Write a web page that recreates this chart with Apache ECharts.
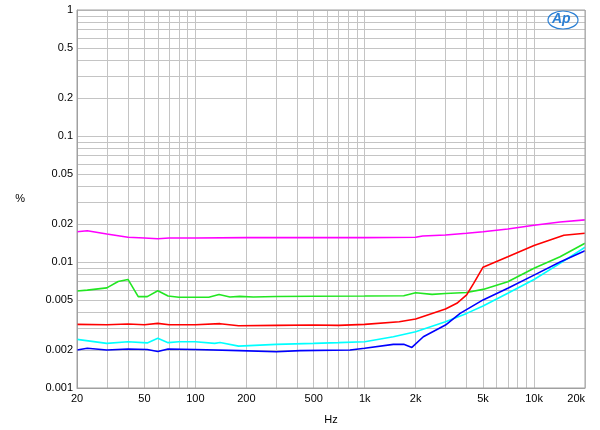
<!DOCTYPE html>
<html>
<head>
<meta charset="utf-8">
<script src="https://cdn.jsdelivr.net/npm/echarts@6/dist/echarts.min.js"></script>
<style>html,body{margin:0;padding:0;background:#fff}#c{width:600px;height:430px}</style>
</head>
<body>
<div id="c"></div>
<script>
// ---- data ----
var xLabelValues = [20, 50, 100, 200, 500, 1000, 2000, 5000, 10000, 20000];
var yLabelValues = [0.001, 0.002, 0.005, 0.01, 0.02, 0.05, 0.1, 0.2, 0.5, 1];

var magentaHz = [20, 23, 30, 40, 50, 60, 70, 100, 200, 500, 1000, 2000, 2200, 3000, 4000, 5000, 7000, 10000, 14250, 20000];
var magenta   = [0.0174, 0.0177, 0.0167, 0.0157, 0.0155, 0.0153, 0.0155, 0.0155, 0.0156, 0.0156, 0.0156, 0.0157, 0.0161, 0.0164, 0.0169, 0.0174, 0.0183, 0.0196, 0.0208, 0.0216];

var greenHz = [20, 23, 30, 35, 40, 46, 52, 60, 69, 80, 120, 138, 160, 183, 220, 300, 500, 1000, 1700, 2000, 2500, 3000, 4000, 5000, 7000, 10000, 14250, 20000];
var green   = [0.00589, 0.00598, 0.00623, 0.0070, 0.00727, 0.00531, 0.00531, 0.00591, 0.00537, 0.00525, 0.00525, 0.00553, 0.00527, 0.00534, 0.00527, 0.00532, 0.00535, 0.00537, 0.00540, 0.00570, 0.00553, 0.00563, 0.00573, 0.00606, 0.00698, 0.00892, 0.0110, 0.0141];

var redHz = [20, 30, 40, 50, 60, 70, 100, 140, 180, 300, 500, 700, 1000, 1600, 2000, 3000, 3500, 4000, 4400, 5000, 7000, 10000, 15000, 20000];
var red   = [0.0032, 0.00318, 0.00322, 0.00318, 0.00326, 0.00318, 0.00318, 0.00324, 0.00312, 0.00314, 0.00316, 0.00314, 0.0032, 0.00336, 0.00353, 0.00424, 0.0047, 0.00548, 0.00677, 0.00909, 0.0110, 0.0135, 0.0163, 0.0169];

var cyanHz = [20, 30, 40, 52, 60, 69, 80, 100, 130, 140, 180, 300, 500, 700, 1000, 1476, 2000, 3000, 4000, 5000, 7000, 10000, 14250, 20000];
var cyan   = [0.00243, 0.00226, 0.00233, 0.00228, 0.00248, 0.00229, 0.00233, 0.00233, 0.00226, 0.00230, 0.00215, 0.00222, 0.00226, 0.00229, 0.00233, 0.00255, 0.0028, 0.00336, 0.00391, 0.00447, 0.00565, 0.00727, 0.00974, 0.0131];

var blueHz = [20, 23, 30, 40, 52, 60, 69, 100, 183, 300, 415, 820, 1000, 1476, 1700, 1900, 2220, 3000, 3660, 5000, 7000, 10000, 14250, 20000];
var blue   = [0.0020, 0.00207, 0.0020, 0.00204, 0.00202, 0.00195, 0.00204, 0.00202, 0.00198, 0.00194, 0.00198, 0.0020, 0.00207, 0.00222, 0.00222, 0.0021, 0.00255, 0.00316, 0.00391, 0.0050, 0.00618, 0.00787, 0.0100, 0.0123];

// ---- build ----
function pairs(xs, ys) { return xs.map(function (x, i) { return [x, ys[i]]; }); }
function decadeGrid(lo, hi) {
  var out = [];
  for (var d = lo; d < hi; d *= 10) {
    for (var k = 1; k <= 9; k++) out.push(+(d * k).toPrecision(6));
  }
  out.push(hi);
  return out;
}
var xGrid = decadeGrid(10, 100000).filter(function (v) { return v >= 20 && v <= 20000; });
var yGrid = decadeGrid(0.001, 1);

function fmtHz(v) {
  if (v >= 1000) return (v / 1000) + 'k';
  return String(v);
}
var font = '"Liberation Sans", Arial, sans-serif';

var chart = echarts.init(document.getElementById('c'), null, { renderer: 'canvas' });
var line = function (name, data, color) {
  return {
    name: name, type: 'line', data: data, showSymbol: false, symbol: 'none',
    lineStyle: { color: color, width: 1.6 }, itemStyle: { color: color },
    animation: false, z: 3
  };
};
chart.setOption({
  animation: false,
  grid: { left: 77, right: 15, top: 10, bottom: 42, containLabel: false },
  xAxis: {
    type: 'log', logBase: 10, min: 20, max: 20000,
    name: 'Hz', nameLocation: 'middle', nameGap: 26,
    nameTextStyle: { color: '#000', fontSize: 11, fontFamily: font },
    axisLine: { show: true, lineStyle: { color: '#a0a0a0', width: 1 } },
    axisTick: { show: false, customValues: xGrid },
    axisLabel: { customValues: xLabelValues, formatter: fmtHz, color: '#000', fontSize: 11, fontFamily: font, margin: 5, alignMaxLabel: 'right' },
    splitLine: { show: true, lineStyle: { color: '#c4c4c4', width: 1 } },
    minorSplitLine: { show: false }
  },
  yAxis: {
    type: 'log', logBase: 10, min: 0.001, max: 1,
    name: '%', nameLocation: 'middle', nameGap: 52, nameRotate: 0,
    nameTextStyle: { color: '#000', fontSize: 11, fontFamily: font },
    axisLine: { show: true, lineStyle: { color: '#a0a0a0', width: 1 } },
    axisTick: { show: false, customValues: yGrid },
    axisLabel: { customValues: yLabelValues, formatter: function (v) { return String(v); }, color: '#000', fontSize: 11, fontFamily: font, margin: 4 },
    splitLine: { show: true, lineStyle: { color: '#c4c4c4', width: 1 } }
  },
  graphic: [
    { type: 'rect', shape: { x: 77, y: 10, width: 508, height: 378 }, style: { fill: 'none', stroke: '#a0a0a0', lineWidth: 1 }, z: 10, silent: true },
    { type: 'ellipse', shape: { cx: 563, cy: 20, rx: 15, ry: 9 }, style: { fill: 'none', stroke: '#2a7fd4', lineWidth: 1.2 }, z: 11 },
    { type: 'text', left: 552, top: 12, style: { text: 'Ap', fill: '#2a7fd4', font: 'italic bold 14px "Liberation Sans", Arial, sans-serif' }, z: 12 }
  ],
  series: [
    line('magenta', pairs(magentaHz, magenta), '#ff00ff'),
    line('green', pairs(greenHz, green), '#22e622'),
    line('red', pairs(redHz, red), '#ff0000'),
    line('cyan', pairs(cyanHz, cyan), '#00ffff'),
    line('blue', pairs(blueHz, blue), '#0000ff')
  ]
});
</script>
</body>
</html>
